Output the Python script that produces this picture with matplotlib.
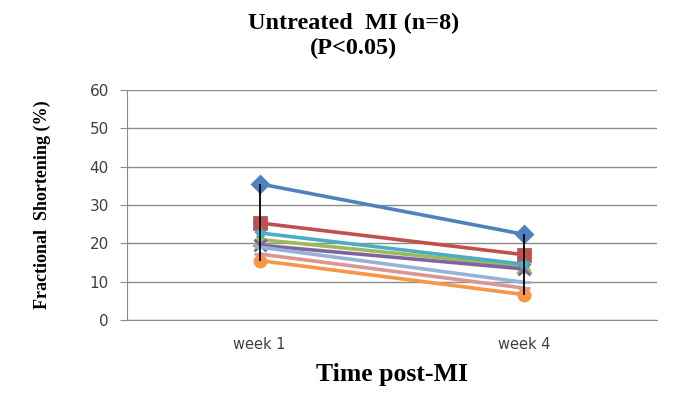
import numpy as np
import matplotlib.pyplot as plt

# data
weeks = ["week 1", "week 4"]
blue = [35.5, 22.3]
red = [25.3, 17.0]
green = [21.0, 14.0]
purple = [19.5, 13.3]
teal = [22.7, 14.5]
orange = [15.5, 6.6]
lavender = [19.0, 9.8]
pink = [17.2, 8.3]

series = [
    (blue, "#4F81BD", "D"),
    (red, "#C0504D", "s"),
    (green, "#9BBB59", "^"),
    (purple, "#8064A2", "x"),
    (teal, "#4BACC6", "*"),
    (orange, "#F79646", "o"),
    (lavender, "#95B3D7", "_"),
    (pink, "#D99694", "_"),
]

fig = plt.figure(figsize=(6.93, 3.96), dpi=100)
ax = fig.add_axes([0.1833, 0.192, 0.7647, 0.581])

x = np.arange(len(weeks))
for vals, col, mk in series:
    ax.plot(x, vals, color=col, lw=2.6, marker=mk, ms=8, mew=2,
            mec=col, mfc=col, solid_capstyle="round", zorder=3)

# high-low lines at each time point
allv = np.array([s[0] for s in series])
ax.vlines(x, allv.min(axis=0), allv.max(axis=0), color="black", lw=1.3, zorder=5)

ax.set_xlim(-0.5, 1.5)
ax.set_ylim(0, 60)
ax.set_yticks(range(0, 61, 10))
ax.set_xticks(x)
ax.set_xticklabels(weeks)
ax.yaxis.grid(True, color="#8c8c8c", lw=1)
ax.set_axisbelow(True)
for s in ["top", "right"]:
    ax.spines[s].set_visible(False)
ax.spines["left"].set_color("#8c8c8c")
ax.spines["bottom"].set_color("#8c8c8c")
ax.tick_params(axis="y", colors="#8c8c8c", labelcolor="#404040", labelsize=11, length=5, pad=8)
ax.tick_params(axis="x", length=0, labelcolor="#404040", labelsize=10.5, pad=12)

fig.text(0.51, 0.94, "Untreated  MI (n=8)", ha="center", va="center",
         fontsize=17.5, fontweight="bold", family="Liberation Serif")
fig.text(0.51, 0.877, "(P<0.05)", ha="center", va="center",
         fontsize=17.5, fontweight="bold", family="Liberation Serif")
ax.set_ylabel("Fractional  Shortening (%)", fontsize=13, fontweight="bold",
              family="Liberation Serif", labelpad=28)
ax.set_xlabel("Time post-MI", fontsize=18.5, fontweight="bold",
              family="Liberation Serif", labelpad=8)

fig.savefig("out.png", dpi=100)
